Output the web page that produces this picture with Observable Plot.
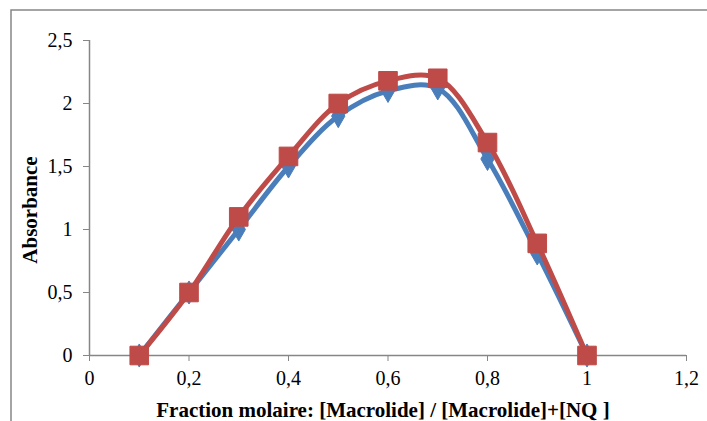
<!DOCTYPE html>
<html>
<head>
<meta charset="utf-8">
<script src="https://cdn.jsdelivr.net/npm/d3@7"></script>
<script src="https://cdn.jsdelivr.net/npm/@observablehq/plot@0.6"></script>
<style>
  html, body { margin: 0; padding: 0; background: #fff; }
  #chart { position: relative; width: 707px; height: 421px; }
</style>
</head>
<body>
<div id="chart"></div>
<script>
const fractions = [0.1, 0.2, 0.3, 0.4, 0.5, 0.6, 0.7, 0.8, 0.9, 1.0];
const serieBleue = [0, 0.5, 1.0, 1.5, 1.9, 2.1, 2.12, 1.56, 0.81, 0];
const serieRouge = [0, 0.5, 1.1, 1.58, 2.0, 2.18, 2.2, 1.69, 0.89, 0];
const xTicks = [0, 0.2, 0.4, 0.6, 0.8, 1, 1.2];
const yTicks = [0, 0.5, 1, 1.5, 2, 2.5];
const xLabel = "Fraction molaire: [Macrolide] / [Macrolide]+[NQ ]";
const yLabel = "Absorbance";

const blueData = fractions.map((x, i) => ({x, y: serieBleue[i]}));
const redData = fractions.map((x, i) => ({x, y: serieRouge[i]}));
const fmt = d => String(d).replace(".", ",");

const BLUE = "#4A7EBB", RED = "#BE4B48", AXIS = "#868686";
const FONT = "Liberation Serif";

const plot = Plot.plot({
  width: 707,
  height: 421,
  marginLeft: 89,
  marginRight: 21,
  marginTop: 40,
  marginBottom: 66,
  style: {fontFamily: FONT, fontSize: "20px", color: "#000", background: "#fff"},
  x: {domain: [0, 1.2], ticks: xTicks, tickFormat: fmt, label: null},
  y: {domain: [0, 2.5], ticks: yTicks, tickFormat: fmt, label: null},
  marks: [
    Plot.axisX({ticks: xTicks, tickFormat: fmt, tickSize: 6, tickPadding: 9, stroke: AXIS, strokeOpacity: 1, label: null, fontSize: 20}),
    Plot.axisY({ticks: yTicks, tickFormat: fmt, tickSize: 6, tickPadding: 11, stroke: AXIS, strokeOpacity: 1, label: null, fontSize: 20}),
    Plot.ruleY([0], {stroke: AXIS, strokeWidth: 1.5}),
    Plot.ruleX([0], {stroke: AXIS, strokeWidth: 1.5}),
    Plot.line(blueData, {x: "x", y: "y", stroke: BLUE, strokeWidth: 5, curve: "catmull-rom"}),
    Plot.dot(blueData, {x: "x", y: "y", symbol: "diamond", r: 7, fill: BLUE, stroke: BLUE, strokeWidth: 1}),
    Plot.line(redData, {x: "x", y: "y", stroke: RED, strokeWidth: 5, curve: "catmull-rom"}),
    Plot.dot(redData, {x: "x", y: "y", symbol: "square", r: 10.5, fill: RED, stroke: RED, strokeWidth: 1})
  ]
});

const svg = d3.select(plot);
svg.attr("font-family", FONT);
svg.selectAll("text").attr("font-family", FONT);
svg.insert("path", ":first-child")
  .attr("d", "M11,421 L11,10 L707,10")
  .attr("fill", "none").attr("stroke", AXIS).attr("stroke-width", 1.5);
svg.append("text")
  .attr("x", 383).attr("y", 417)
  .attr("text-anchor", "middle")
  .attr("font-family", FONT)
  .attr("font-weight", "bold").attr("font-size", 21)
  .text(xLabel);
svg.append("text")
  .attr("transform", "translate(37,210) rotate(-90)")
  .attr("text-anchor", "middle")
  .attr("font-family", FONT)
  .attr("font-weight", "bold").attr("font-size", 21)
  .text(yLabel);

document.getElementById("chart").appendChild(plot);
</script>
</body>
</html>
